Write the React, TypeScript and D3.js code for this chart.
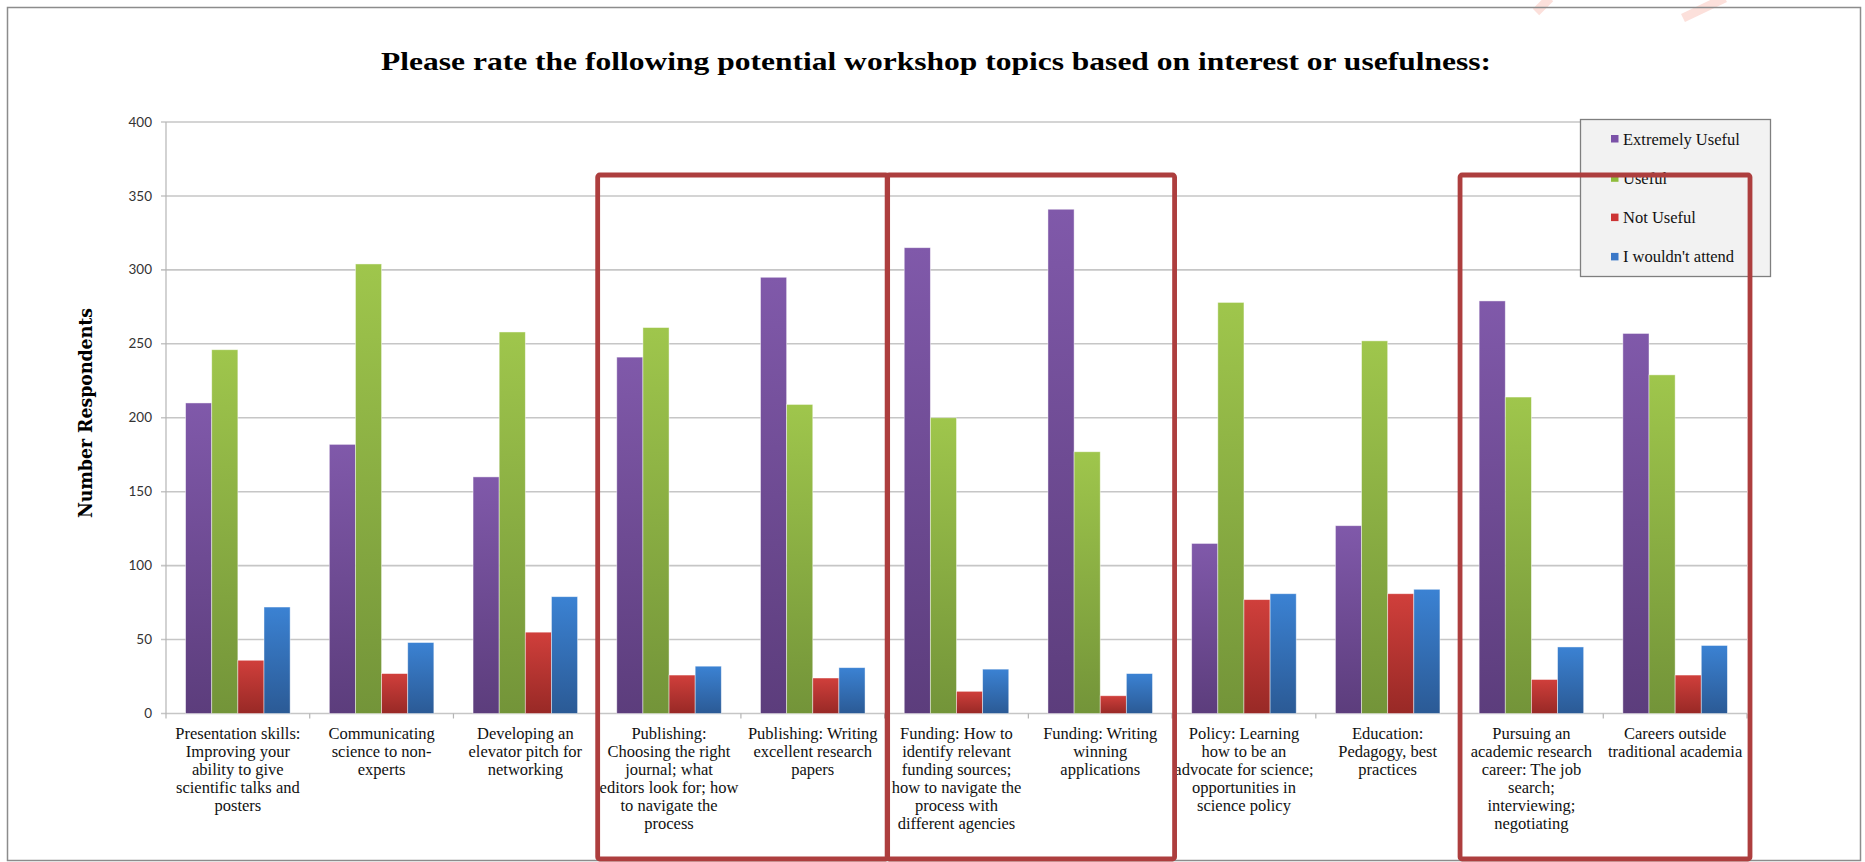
import React from "react";
import * as d3 from "d3";

const categories: string[][] = [
  ["Presentation skills:", "Improving your", "ability to give", "scientific talks and", "posters"],
  ["Communicating", "science to non-", "experts"],
  ["Developing an", "elevator pitch for", "networking"],
  ["Publishing:", "Choosing the right", "journal; what", "editors look for; how", "to navigate the", "process"],
  ["Publishing: Writing", "excellent research", "papers"],
  ["Funding: How to", "identify relevant", "funding sources;", "how to navigate the", "process with", "different agencies"],
  ["Funding: Writing", "winning", "applications"],
  ["Policy: Learning", "how to be an", "advocate for science;", "opportunities in", "science policy"],
  ["Education:", "Pedagogy, best", "practices"],
  ["Pursuing an", "academic research", "career: The job", "search;", "interviewing;", "negotiating"],
  ["Careers outside", "traditional academia"],
];

const seriesNames = ["Extremely Useful", "Useful", "Not Useful", "I wouldn't attend"];
const extremelyUseful = [210, 182, 160, 241, 295, 315, 341, 115, 127, 279, 257];
const useful = [246, 304, 258, 261, 209, 200, 177, 278, 252, 214, 229];
const notUseful = [36, 27, 55, 26, 24, 15, 12, 77, 81, 23, 26];
const wouldntAttend = [72, 48, 79, 32, 31, 30, 27, 81, 84, 45, 46];
const yTicks = [0, 50, 100, 150, 200, 250, 300, 350, 400];
// highlighted groups: [first category index, last category index]
const highlights: [number, number][] = [[3, 4], [5, 6], [9, 10]];

const title = "Please rate the following potential workshop topics based on interest or usefulness:";
const yTitle = "Number Respondents";

const W = 1865;
const H = 862;
const plotLeft = 166;
const plotRight = 1747;
const plotTop = 122;
const plotBottom = 713.5;

const gradients = [
  { top: "#8059aa", bottom: "#5c3d7c" },
  { top: "#9fc64c", bottom: "#739439" },
  { top: "#d03f3b", bottom: "#982926" },
  { top: "#3b82d3", bottom: "#2b5a95" },
];
const legendColors = ["#7b52a8", "#8fbc3c", "#cc3434", "#3a78c8"];

export default function App() {
  const seriesValues = [extremelyUseful, useful, notUseful, wouldntAttend];
  const idx = categories.map((_, i) => String(i));
  const x0 = d3.scaleBand<string>().domain(idx).range([plotLeft, plotRight]).paddingInner(0).paddingOuter(0);
  const x1 = d3
    .scaleBand<string>()
    .domain(seriesNames)
    .range([0, x0.bandwidth()])
    .paddingInner(0)
    .paddingOuter(0.75);
  const y = d3.scaleLinear().domain([0, 400]).range([plotBottom, plotTop]);

  const lineH = 17.9;
  const firstBaseline = 739;

  return (
    <svg
      width={W}
      height={H}
      style={{ position: "absolute", left: 0, top: 0, background: "#fff" }}
      xmlns="http://www.w3.org/2000/svg"
    >
      <defs>
        {gradients.map((g, i) => (
          <linearGradient key={i} id={`grad${i}`} x1="0" y1="0" x2="0" y2="1">
            <stop offset="0" stopColor={g.top} />
            <stop offset="1" stopColor={g.bottom} />
          </linearGradient>
        ))}
      </defs>
      <rect x={0} y={0} width={W} height={H} fill="#fff" />
      {/* faint watermark strokes */}
      <line x1={1550} y1={-2} x2={1536} y2={12} stroke="#fbd3cc" strokeWidth={9} opacity={0.7} />
      <line x1={1725} y1={-2} x2={1683} y2={18} stroke="#fbd3cc" strokeWidth={9} opacity={0.7} />
      {/* outer chart border */}
      <rect x={7.5} y={7.5} width={1853} height={853} fill="none" stroke="#8c8c8c" strokeWidth={1.5} />

      <text
        x={936}
        y={70}
        textAnchor="middle"
        fontFamily="'Liberation Serif', serif"
        fontWeight="bold"
        fontSize={26}
        textLength={1110}
        lengthAdjust="spacingAndGlyphs"
        fill="#000"
      >
        {title}
      </text>

      {/* gridlines */}
      {yTicks.map((t) => (
        <line
          key={t}
          x1={plotLeft - 5}
          x2={plotRight}
          y1={y(t)}
          y2={y(t)}
          stroke="#c6c6c6"
          strokeWidth={1.6}
        />
      ))}
      <line x1={plotLeft} x2={plotLeft} y1={plotTop} y2={plotBottom} stroke="#b5b5b5" strokeWidth={1.2} />
      {/* y tick labels */}
      {yTicks.map((t) => (
        <text
          key={t}
          x={152}
          y={y(t) + 4.6}
          textAnchor="end"
          fontFamily="Lato, 'Open Sans', sans-serif"
          fontSize={13.5}
          fill="#333"
        >
          {t}
        </text>
      ))}
      <text
        transform={`translate(92,413) rotate(-90)`}
        textAnchor="middle"
        fontFamily="'DejaVu Serif', serif"
        fontWeight="bold"
        fontSize={18}
        textLength={210}
        lengthAdjust="spacingAndGlyphs"
        fill="#000"
      >
        {yTitle}
      </text>

      {/* x ticks */}
      {d3.range(categories.length + 1).map((i) => {
        const xx = plotLeft + i * x0.step();
        return <line key={i} x1={xx} x2={xx} y1={plotBottom} y2={plotBottom + 5} stroke="#b5b5b5" strokeWidth={1.2} />;
      })}

      {/* bars */}
      {idx.map((c, ci) => (
        <g key={c} transform={`translate(${x0(c)},0)`}>
          {seriesNames.map((s, si) => {
            const v = seriesValues[si][ci];
            return (
              <rect
                key={s}
                x={x1(s)}
                y={y(v)}
                width={x1.bandwidth()}
                height={plotBottom - y(v)}
                fill={`url(#grad${si})`}
                stroke="rgba(255,255,255,0.55)"
                strokeWidth={0.8}
              />
            );
          })}
        </g>
      ))}

      {/* category labels */}
      {categories.map((lines, ci) => {
        const cx = (x0(String(ci)) as number) + x0.bandwidth() / 2;
        return (
          <text
            key={ci}
            textAnchor="middle"
            fontFamily="'Liberation Serif', serif"
            fontSize={16.5}
            fill="#111"
          >
            {lines.map((ln, li) => (
              <tspan key={li} x={cx} y={firstBaseline + li * lineH}>
                {ln}
              </tspan>
            ))}
          </text>
        );
      })}

      {/* legend */}
      <rect x={1580.5} y={119.5} width={190} height={157} fill="#f2f2f2" stroke="#7f7f7f" strokeWidth={1.3} />
      {seriesNames.map((s, si) => {
        const yy = 139 + si * 39.3;
        return (
          <g key={s}>
            <rect x={1611} y={yy - 4} width={7.5} height={7.5} fill={legendColors[si]} />
            <text
              x={1623}
              y={yy + 5.5}
              fontFamily="'Liberation Serif', serif"
              fontSize={16.5}
              fill="#111"
            >
              {s}
            </text>
          </g>
        );
      })}

      {/* red highlight boxes */}
      {highlights.map(([a, b], hi) => {
        const left = plotLeft + a * x0.step();
        const right = plotLeft + (b + 1) * x0.step();
        return (
          <rect
            key={hi}
            x={left + (hi === 1 ? 2.5 : 0.5)}
            y={175}
            width={right - left + (hi === 1 ? 0 : 2.5) - (hi === 1 ? 0 : 0)}
            height={684}
            rx={2}
            fill="none"
            stroke="#ad3e3e"
            strokeWidth={4.8}
          />
        );
      })}
    </svg>
  );
}
